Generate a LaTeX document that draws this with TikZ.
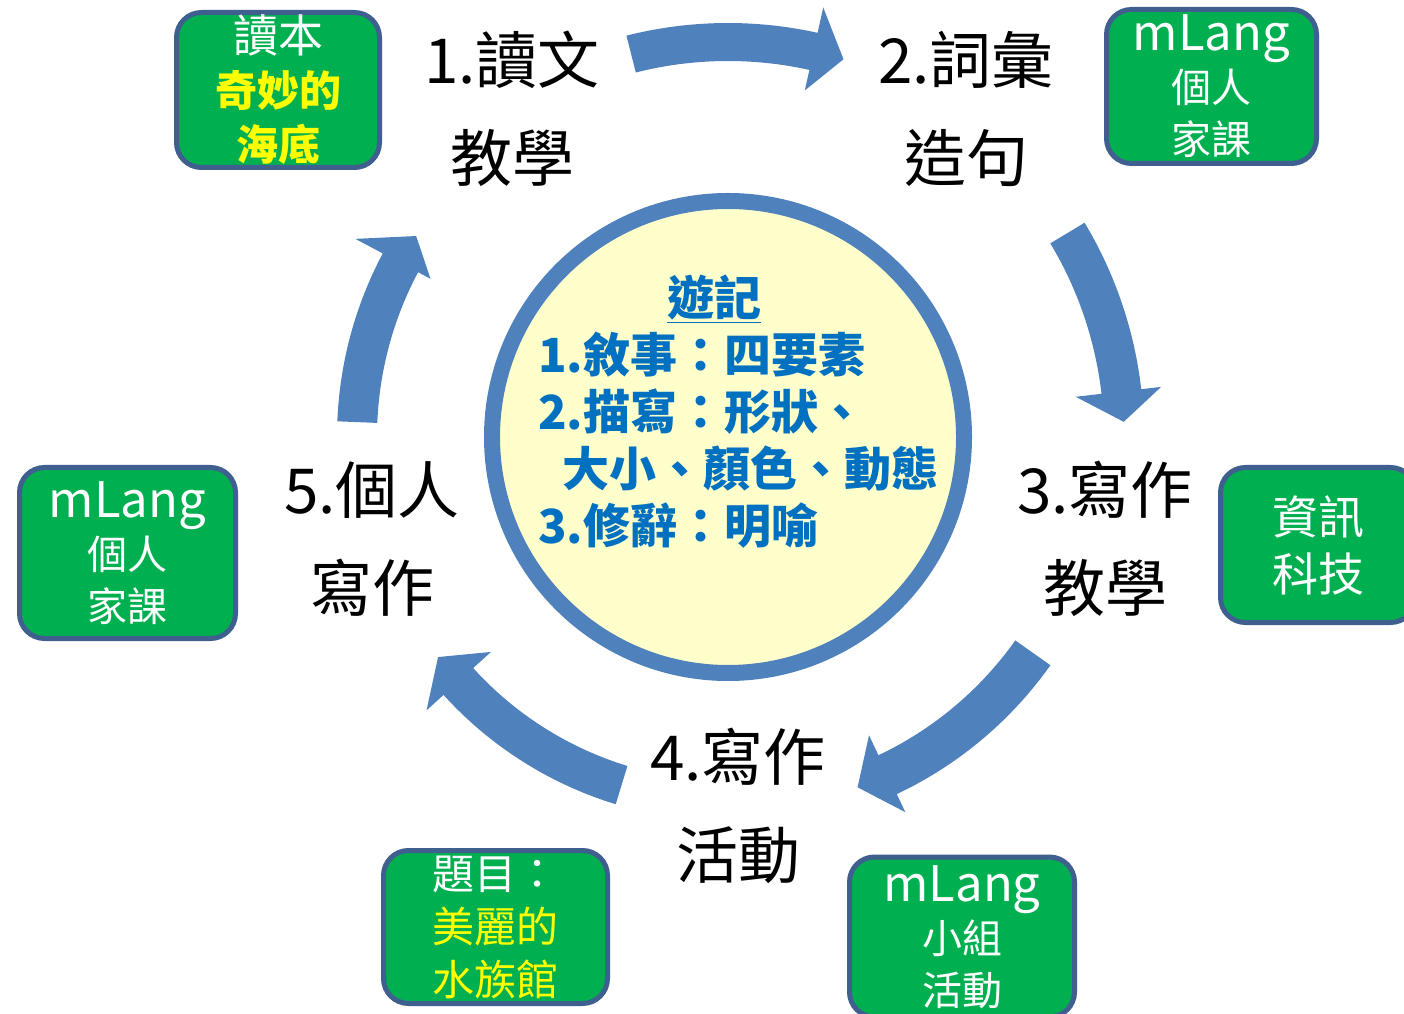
\documentclass[tikz,border=0pt]{standalone}
\usepackage{fontspec}
\setmainfont{Noto Sans CJK TC}
\usepackage{xcolor}
\usepackage{tikz}
\usetikzlibrary{positioning,calc}
\definecolor{flowblue}{HTML}{4F81BD}
\definecolor{ringcream}{HTML}{FFFFCC}
\definecolor{noteblue}{HTML}{0070C0}
\definecolor{boxgreen}{HTML}{00B050}
\definecolor{boxline}{HTML}{3F5F8F}
\definecolor{hiyellow}{HTML}{FFFF00}

% curved block arrow round the ring centre:
% start, end, tip angle, inner r, outer r, head inner r, head outer r
\newcommand{\bentarrow}[7]{%
  \fill[flowblue] (#1:#5) arc[start angle=#1,end angle=#2,radius=#5]
    -- (#2:#7) -- (#3:{(#4+#5)/2}) -- (#2:#6) -- (#2:#4)
    arc[start angle=#2,end angle=#1,radius=#4] -- cycle;}

\begin{document}
\begin{tikzpicture}[x=1pt,y=1pt,
  stage/.style={align=center,inner sep=0pt,text=black,
                font=\fontsize{62}{98}\selectfont},
  tool/.style={draw=boxline,line width=5pt,fill=boxgreen,rounded corners=25pt,
               align=center,inner sep=0pt,text=white,
               font=\fontsize{40}{52}\selectfont},
  notetext/.style={align=left,inner sep=0pt,text=noteblue,
                   font=\bfseries\fontsize{47}{57}\selectfont}
]
  \useasboundingbox (0,0) rectangle (1404,1013);

  % ring in the middle
  \coordinate (mid) at (728,576);
  \begin{scope}[shift={(mid)}]
    \bentarrow{104.2}{77.5}{73}{376}{414}{355}{440}
    \bentarrow{31}{6.6}{2.2}{376}{416}{350}{436}
    \bentarrow{-35.3}{-64.7}{-69.7}{352}{395}{330}{415}
    \bentarrow{-107}{-137.8}{-142.8}{344}{384}{320}{407}
    \bentarrow{177.7}{152}{147.2}{351}{391}{337}{422}
  \end{scope}
  \draw[flowblue,line width=16pt,fill=ringcream] (mid) circle[radius=236];

  \node[notetext,anchor=west] (notes) at (538,601) {%
    \hspace*{129pt}\underline{遊記}\\
    1.敘事：四要素\\
    2.描寫：形狀、\\
    \hspace*{24pt}大小、顏色、動態\\
    3.修辭：明喻};

  % five stages
  \node[stage] (read)  at (512,904)  {1.讀文\\教學};
  \node[stage] (words) at (966,904)  {2.詞彙\\造句};
  \node[stage] (teach) at (1105,474) {3.寫作\\教學};
  \node[stage] (act)   at (738,207)  {4.寫作\\活動};
  \node[stage] (own)   at (372,474)  {5.個人\\寫作};

  % green boxes
  \node[tool,minimum width=203pt,minimum height=155pt,
        font=\fontsize{42}{54}\selectfont] (book) at (278,923)
    {{\fontsize{45}{54}\selectfont 讀本}\\{\color{hiyellow}\bfseries 奇妙的}\\{\color{hiyellow}\bfseries 海底}};
  \node[tool,minimum width=210pt,minimum height=154pt] (homeA) at (1211.5,926.5)
    {{\fontsize{49}{52}\selectfont mLang}\\個人\\家課};
  \node[tool,minimum width=216pt,minimum height=171pt] (homeB) at (127.5,460)
    {{\fontsize{49}{52}\selectfont mLang}\\個人\\家課};
  \node[tool,minimum width=195pt,minimum height=155pt,
        font=\fontsize{46}{57}\selectfont] (tech) at (1318,468)
    {資訊\\科技};
  \node[tool,minimum width=224pt,minimum height=153pt,
        font=\fontsize{42}{53}\selectfont] (topic) at (495.5,86)
    {題目：\\{\color{hiyellow}美麗的}\\{\color{hiyellow}水族館}};
  \node[tool,minimum width=225pt,minimum height=160pt] (group) at (962,76)
    {{\fontsize{49}{52}\selectfont mLang}\\小組\\活動};
\end{tikzpicture}
\end{document}
